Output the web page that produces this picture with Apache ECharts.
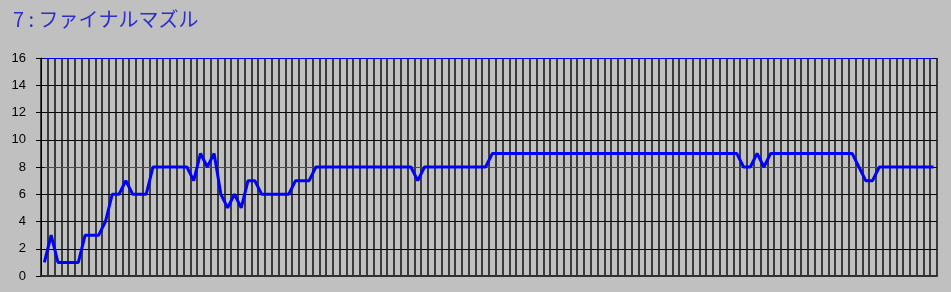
<!DOCTYPE html>
<html>
<head>
<meta charset="utf-8">
<script src="https://cdn.jsdelivr.net/npm/echarts@6/dist/echarts.min.js"></script>
<style>
html,body{margin:0;padding:0;background:#c0c0c0;}
#chart{width:951px;height:292px;}
</style>
</head>
<body>
<div id="chart"></div>
<script>
const titleText = "7 : ファイナルマズル";
const actualValues = [
  1,3,1,1,1,1,3,3,3,4,
  6,6,7,6,6,6,8,8,8,8,
  8,8,7,9,8,9,6,5,6,5,
  7,7,6,6,6,6,6,7,7,7,
  8,8,8,8,8,8,8,8,8,8,
  8,8,8,8,8,7,8,8,8,8,
  8,8,8,8,8,8,9,9,9,9,
  9,9,9,9,9,9,9,9,9,9,
  9,9,9,9,9,9,9,9,9,9,
  9,9,9,9,9,9,9,9,9,9,
  9,9,9,8,8,9,8,9,9,9,
  9,9,9,9,9,9,9,9,9,9,
  8,7,7,8,8,8,8,8,8,8,
  8,8
];
const categories = actualValues.map((_, i) => String(i + 1));
const upperLimit = 16;
const targetValue = 8;
const yTicks = [0, 2, 4, 6, 8, 10, 12, 14, 16];

const chart = echarts.init(document.getElementById('chart'), null, {renderer: 'canvas'});
const lastCat = categories[categories.length - 1];
const firstCat = categories[0];
chart.setOption({
  backgroundColor: '#c0c0c0',
  animation: false,
  title: {
    text: titleText,
    left: 8, top: 4,
    textStyle: {color: '#2e2ecc', fontSize: 20, fontWeight: 'normal', fontFamily: '"Noto Sans CJK JP", sans-serif'}
  },
  grid: {left: 41, right: 14, top: 58, bottom: 16, containLabel: false},
  xAxis: {
    type: 'category',
    data: categories,
    boundaryGap: true,
    axisLine: {show: true, lineStyle: {color: '#303030', width: 2}},
    axisTick: {show: false},
    axisLabel: {show: false},
    splitLine: {show: true, interval: 0, lineStyle: {color: '#1a1a1a', width: 1.6}}
  },
  yAxis: {
    type: 'value',
    min: yTicks[0], max: yTicks[yTicks.length - 1], interval: 2,
    axisLine: {show: true, lineStyle: {color: '#000', width: 1}},
    axisTick: {show: true, length: 5, lineStyle: {color: '#000'}},
    axisLabel: {color: '#000', fontSize: 13, margin: 15, fontFamily: '"Liberation Sans", Arial, sans-serif'},
    splitLine: {show: true, lineStyle: {color: '#000', width: 1}}
  },
  series: [
    {
      type: 'line',
      data: actualValues,
      symbol: 'none',
      lineStyle: {color: '#0000ff', width: 3},
      z: 5,
      markLine: {
        silent: true,
        symbol: 'none',
        label: {show: false},
        data: [
          [{coord: [firstCat, upperLimit], lineStyle: {color: '#0000ff', width: 1, type: 'solid'}},
           {coord: [lastCat, upperLimit]}],
          [{coord: [firstCat, targetValue], lineStyle: {color: '#ff0000', width: 1, type: 'solid'}},
           {coord: [lastCat, targetValue]}]
        ],
        z: 3
      }
    }
  ]
});
</script>
</body>
</html>
